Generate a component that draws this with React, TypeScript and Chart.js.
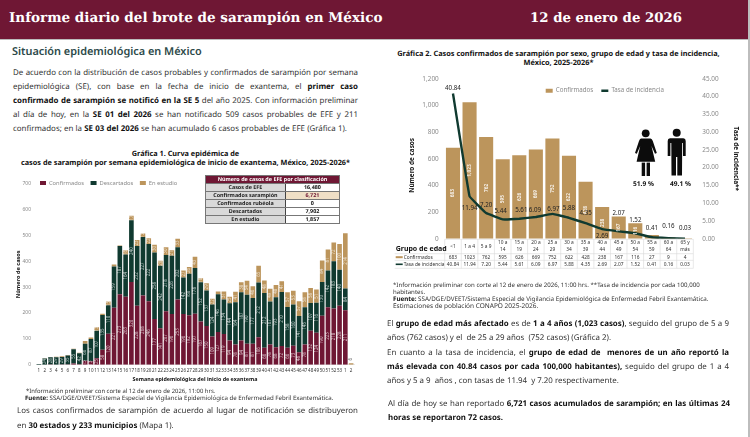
import React, { useEffect, useRef } from "react";
import { Chart, registerables } from "chart.js";

Chart.register(...registerables);
Chart.defaults.font.family = "'Noto Sans'";

const weeks = ["1","2","3","4","5","6","7","8","9","10","11","12","13","14","15","16","17","18","19","20","21","22","23","24","25","26","27","28","29","30","31","32","33","34","35","36","37","38","39","40","41","42","43","44","45","46","47","48","49","50","51","52","53","1","2"];
const confirmados = [0,0,1,0,1,1,5,2,15,13,25,58,120,221,273,263,320,228,268,246,177,141,207,196,253,196,192,197,167,150,109,127,119,94,78,94,81,81,106,66,78,68,72,66,73,48,78,132,124,190,223,218,228,211,0];
const descartados = [3,24,28,29,29,35,55,42,66,87,107,135,110,159,187,164,240,232,227,222,258,242,218,226,202,142,160,178,152,137,124,146,134,144,164,187,190,177,212,212,167,193,210,158,160,141,145,107,116,130,142,183,140,84,0];
const enEstudio = [0,1,1,2,3,2,2,2,11,5,13,4,15,8,2,16,17,23,13,22,30,20,30,21,33,27,26,43,16,29,22,11,31,25,41,38,54,46,65,48,49,48,41,57,53,57,58,58,51,84,81,72,100,214,6];

const ageGroups = [["<1"],["1 a 4"],["5 a 9"],["10 a","14"],["15 a","19"],["20 a","24"],["25 a","29"],["30 a","34"],["35 a","39"],["40 a","44"],["45 a","49"],["50 a","54"],["55 a","59"],["60 a","64"],["65 y","más"]];
const casosEdad = [683,1023,762,595,626,669,752,622,428,238,167,116,27,9,4];
const tasaEdad = [40.84,11.94,7.2,5.44,5.61,6.09,6.97,5.88,4.35,2.69,2.07,1.52,0.41,0.16,0.03];

const resumen = [["Casos de EFE","16,480"],["Confirmados sarampión","6,721"],["Confirmados rubéola","0"],["Descartados","7,902"],["En estudio","1,857"]];

const MAROON = "#6f1734";
const GREEN = "#103a30";
const TAN = "#bc955c";
const TICK = "#8a8a8a";

const pinLegend = (x: number, y: number) => ({
  id: "pinLegend",
  beforeDraw(chart: any) {
    const l = chart.legend;
    const w = l.right - l.left;
    const h = l.bottom - l.top;
    l.left = x; l.right = x + w; l.top = y; l.bottom = y + h;
  },
});

const segmentLabels = {
  id: "segmentLabels",
  afterDatasetsDraw(chart: any) {
    const { ctx } = chart;
    ctx.save();
    ctx.font = "4.4px 'Noto Sans'";
    ctx.fillStyle = "rgba(255,255,255,0.72)";
    ctx.textAlign = "center";
    ctx.textBaseline = "middle";
    chart.data.datasets.forEach((d: any, i: number) => {
      chart.getDatasetMeta(i).data.forEach((bar: any, j: number) => {
        const v = d.data[j];
        if (v < 12) return;
        ctx.save();
        ctx.translate(bar.x, (bar.y + bar.base) / 2);
        ctx.rotate(-Math.PI / 2);
        ctx.fillText(String(v), 0, 0);
        ctx.restore();
      });
    });
    const last = chart.getDatasetMeta(2).data[weeks.length - 1];
    ctx.fillStyle = "#555";
    ctx.translate(last.x, last.y - 4);
    ctx.rotate(-Math.PI / 2);
    ctx.fillText(String(enEstudio[weeks.length - 1]), 0, 0);
    ctx.restore();
  },
};

const rateLabelDy = [-5,12,-7.5,-8,-8.5,-7,-5,-10,-10,7,-18,-13.5,-9,-11.5,-10.6];
const rateLabelDx = [0,0,0,-2,2,-1,1,0,0,0,0,0,0,0,0];

const ageLabels = {
  id: "ageLabels",
  afterDatasetsDraw(chart: any) {
    const { ctx } = chart;
    ctx.save();
    ctx.textAlign = "center";
    ctx.textBaseline = "middle";
    const bars = chart.getDatasetMeta(0).data;
    ctx.font = "bold 4.8px 'Noto Sans'";
    ctx.fillStyle = "rgba(255,255,255,0.85)";
    bars.forEach((bar: any, i: number) => {
      if (casosEdad[i] < 100) return;
      ctx.save();
      ctx.translate(bar.x, (bar.y + bar.base) / 2);
      ctx.rotate(-Math.PI / 2);
      ctx.fillText(casosEdad[i].toLocaleString("en-US"), 0, 0);
      ctx.restore();
    });
    ctx.font = "6.2px 'Noto Sans'";
    ctx.fillStyle = "#222";
    chart.getDatasetMeta(1).data.forEach((p: any, i: number) => {
      ctx.fillText(tasaEdad[i].toFixed(2), p.x + rateLabelDx[i], p.y + rateLabelDy[i]);
    });
    ctx.restore();
  },
};

const ageTable = {
  id: "ageTable",
  afterDraw(chart: any) {
    const { ctx, scales } = chart;
    const x = scales.x;
    const step = x.getPixelForTick(1) - x.getPixelForTick(0);
    const left = x.getPixelForTick(0) - step / 2;
    const right = x.getPixelForTick(ageGroups.length - 1) + step / 2;
    const top = x.top + 0.6;
    const rowY = [top, top + 14.4, top + 21, top + 29];
    ctx.save();
    ctx.strokeStyle = "#d8d8d8";
    ctx.lineWidth = 0.6;
    ctx.beginPath();
    rowY.forEach((y) => { ctx.moveTo(left - (y === top ? 0 : 50), y); ctx.lineTo(right, y); });
    for (let i = 0; i <= ageGroups.length; i++) {
      ctx.moveTo(left + i * step, top); ctx.lineTo(left + i * step, rowY[3]);
    }
    ctx.stroke();
    ctx.textBaseline = "middle";
    ctx.textAlign = "center";
    ctx.fillStyle = "#333";
    ctx.font = "4.8px 'Noto Sans'";
    casosEdad.forEach((v, i) => ctx.fillText(String(v), x.getPixelForTick(i), top + 17.9));
    tasaEdad.forEach((v, i) => ctx.fillText(v.toFixed(2), x.getPixelForTick(i), top + 25));
    ctx.textAlign = "left";
    ctx.fillText("Confirmados", left - 41, top + 17.9);
    ctx.fillText("Tasa de incidencia", left - 41, top + 25);
    ctx.fillStyle = TAN;
    ctx.fillRect(left - 49, top + 16.9, 7, 2);
    ctx.fillStyle = GREEN;
    ctx.fillRect(left - 49, top + 24.2, 7, 1.6);
    ctx.fillStyle = "#111";
    ctx.font = "bold 7px 'Noto Sans'";
    ctx.fillText("Grupo de edad", left - 49, top + 9.5);
    ctx.restore();
  },
};

function useChart(make: (c: HTMLCanvasElement) => Chart) {
  const ref = useRef<HTMLCanvasElement>(null);
  useEffect(() => {
    const chart = make(ref.current!);
    return () => chart.destroy();
  }, []);
  return ref;
}

const legendLabels = (size: number, extra: any = {}) => ({
  font: { size },
  color: "#8a8a8a",
  usePointStyle: true,
  boxHeight: 4,
  pointStyleWidth: 6,
  padding: 6,
  sort: (a: any, b: any) => a.datasetIndex - b.datasetIndex,
  ...extra,
});

function EpiChart() {
  const ref = useChart((c) => new Chart(c, {
    type: "bar",
    data: {
      labels: weeks,
      datasets: [
        { label: "Confirmados", data: confirmados, backgroundColor: MAROON, pointStyle: "rect" },
        { label: "Descartados", data: descartados, backgroundColor: GREEN, pointStyle: "rect" },
        { label: "En estudio", data: enEstudio, backgroundColor: TAN, pointStyle: "rect" },
      ],
    } as any,
    options: {
      animation: false,
      responsive: false,
      devicePixelRatio: 1,
      layout: { padding: { left: 15, right: 21, top: 11.7, bottom: 0.3 } },
      datasets: { bar: { categoryPercentage: 0.8, barPercentage: 1 } },
      plugins: {
        legend: { position: "top", align: "start", labels: legendLabels(5.8, { padding: 6.5 }) },
        tooltip: { enabled: false },
      },
      scales: {
        x: {
          stacked: true,
          grid: { display: false, drawTicks: false },
          border: { color: "#d0d0d0", width: 0.5 },
          ticks: { autoSkip: false, maxRotation: 0, font: { size: 4.5 }, color: "#333", padding: 3 },
          title: { display: true, text: "Semana epidemiológica del inicio de exantema", font: { size: 5.35, weight: "bold" }, color: "#111", padding: { top: 1, bottom: 2 } },
          afterFit: (s: any) => { s.height = 20; },
        },
        y: {
          stacked: true,
          min: 0,
          max: 700,
          grid: { display: false, drawTicks: false },
          border: { display: false },
          ticks: { stepSize: 100, font: { size: 5 }, color: TICK, padding: 5 },
          title: { display: true, text: "Número de casos", font: { size: 5.6, weight: "bold" }, color: "#111", padding: 0 },
          afterFit: (s: any) => { s.width = 21; },
        },
      },
    } as any,
    plugins: [segmentLabels, pinLegend(33.5, 23.5)],
  }));
  return <canvas ref={ref} width={375} height={235} style={{ position: "absolute", left: 0, top: 150, width: 375, height: 235 }} />;
}

function AgeChart() {
  const ref = useChart((c) => new Chart(c, {
    type: "bar",
    data: {
      labels: ageGroups,
      datasets: [
        { type: "bar", label: "Confirmados", data: casosEdad, backgroundColor: TAN, yAxisID: "y", order: 2, pointStyle: "rect", categoryPercentage: 0.85, barPercentage: 1 },
        { type: "line", label: "Tasa de incidencia", data: tasaEdad, borderColor: GREEN, backgroundColor: GREEN, borderWidth: 2.4, pointRadius: 0, tension: 0.05, yAxisID: "y1", order: 1, pointStyle: "line" },
      ],
    } as any,
    options: {
      animation: false,
      responsive: false,
      devicePixelRatio: 1,
      layout: { padding: { left: 23, right: 10, top: 4.5, bottom: 10.3 } },
      plugins: {
        legend: { position: "top", align: "start", labels: legendLabels(6.2, { pointStyleWidth: 7, padding: 8 }) },
        tooltip: { enabled: false },
      },
      scales: {
        x: {
          grid: { display: false, drawTicks: false },
          border: { display: false },
          ticks: {
            autoSkip: false,
            maxRotation: 0,
            padding: 1,
            color: "#333",
            font: (ctx: any) => ({ size: 4.8, lineHeight: ageGroups[ctx.index]?.length === 1 ? 2.7 : 1.35 }),
          },
          afterFit: (s: any) => { s.height = 31; },
        },
        y: {
          min: 0,
          max: 1200,
          grid: { display: false, drawTicks: false },
          border: { display: false },
          ticks: { stepSize: 200, font: { size: 6.4 }, color: TICK, padding: 6, callback: (v: any) => Number(v).toLocaleString("en-US") },
          title: { display: true, text: "Número de casos        ", font: { size: 6.4, weight: "bold" }, color: "#111", padding: 0 },
          afterFit: (s: any) => { s.width = 36.7; },
        },
        y1: {
          position: "right",
          min: 0,
          max: 45,
          grid: { display: false, drawTicks: false },
          border: { display: false },
          ticks: { stepSize: 5, font: { size: 6.4 }, color: TICK, padding: 9, callback: (v: any) => Number(v).toFixed(2) },
          title: { display: true, text: "Tasa de incidencia**", font: { size: 6.4, weight: "bold" }, color: "#111", padding: 0 },
          afterFit: (s: any) => { s.width = 46.7; },
        },
      },
    } as any,
    plugins: [ageLabels, ageTable, pinLegend(152.7, 29.6)],
  }));
  return <canvas ref={ref} width={365} height={230} style={{ position: "absolute", left: 385, top: 50, width: 365, height: 230 }} />;
}

const T = ({ x, y, w, size = 7.9, justify, center, children, color = "#333", weight, family }: any) => (
  <div
    style={{
      position: "absolute",
      left: x,
      top: y - 10,
      width: w,
      height: 20,
      lineHeight: "20px",
      fontSize: size,
      color,
      fontWeight: weight,
      fontFamily: family || "'Noto Sans'",
      textAlign: center ? "center" : "left",
      textAlignLast: justify ? "justify" : center ? "center" : "left",
      whiteSpace: "nowrap",
    }}
  >
    {children}
  </div>
);
const B = ({ children }: any) => <b style={{ color: "#111" }}>{children}</b>;

function ResumenTable() {
  const cell: React.CSSProperties = { height: 7, lineHeight: "6.4px", fontSize: 5.4, fontWeight: 700, textAlign: "center", boxSizing: "border-box", color: "#222" };
  return (
    <div style={{ position: "absolute", left: 205, top: 175, width: 135, fontFamily: "'Noto Sans'", border: "0.5px solid #777", boxSizing: "border-box" }}>
      <div style={{ ...cell, background: MAROON, color: "#fff" }}>Número de casos de EFE por clasificación</div>
      {resumen.map(([k, v], i) => (
        <div key={k} style={{ display: "flex", borderTop: "0.5px solid #777" }}>
          <div style={{ ...cell, width: 81, background: "#d9d9d9", borderRight: "0.5px solid #444" }}>{k}</div>
          <div style={{ ...cell, width: 54, background: i === 1 ? "#efdfc6" : "#fff", color: i === 1 ? MAROON : "#111" }}>{v}</div>
        </div>
      ))}
    </div>
  );
}

export default function App() {
  return (
    <div style={{ position: "absolute", left: 0, top: 0, width: 750, height: 437, overflow: "hidden", background: "#fff", textRendering: "geometricPrecision" }}>
      <div style={{ position: "absolute", left: 0, top: 0, width: 748, height: 39, background: MAROON, borderBottom: "1px solid #bbb" }} />
      <div style={{ position: "absolute", left: 748, top: 0, width: 2, height: 437, background: "#bdbdbd" }} />
      <T x={9} y={18} size={13.55} weight={700} color="#fff" family="'DejaVu Serif'">Informe diario del brote de sarampión en México</T>
      <T x={530} y={19} size={13.3} weight={700} color="#fff" family="'DejaVu Serif'">12 de enero de 2026</T>

      <T x={12} y={52} size={10.9} weight={600} color="#2d4a4a">Situación epidemiológica en México</T>
      <T x={13} y={73} w={345} justify>De acuerdo con la distribución de casos probables y confirmados de sarampión por semana</T>
      <T x={13} y={87} w={345} justify>epidemiológica (SE), con base en la fecha de inicio de exantema, el <B>primer caso</B></T>
      <T x={13} y={101} w={345} justify><B>confirmado de sarampión se notificó en la SE 5</B> del año 2025. Con información preliminar</T>
      <T x={13} y={115} w={345} justify>al día de hoy, en la <B>SE 01 del 2026</B> se han notificado 509 casos probables de EFE y 211</T>
      <T x={13} y={129} w={334} justify>confirmados; en la <B>SE 03 del 2026</B> se han acumulado 6 casos probables de EFE (Gráfica 1).</T>

      <T x={0} y={154} w={371} center size={7.3} weight={700} color="#111">Gráfica 1. Curva epidémica de</T>
      <T x={0} y={163} w={371} center size={7.3} weight={700} color="#111">casos de sarampión por semana epidemiológica de inicio de exantema, México, 2025-2026*</T>

      <EpiChart />
      <ResumenTable />

      <T x={26} y={390.5} size={5.9}>*Información preliminar con corte al 12 de enero de 2026, 11:00 hrs.</T>
      <T x={25} y={398} size={6.12}><B>Fuente:</B> SSA/DGE/DVEET/Sistema Especial de Vigilancia Epidemiológica de Enfermedad Febril Exantemática.</T>
      <T x={17} y={411} w={341} justify>Los casos confirmados de sarampión de acuerdo al lugar de notificación se distribuyeron</T>
      <T x={17} y={426}>en <B>30 estados y 233 municipios</B> (Mapa 1).</T>

      <T x={380} y={54} w={357} center size={7.35} weight={700} color="#111">Gráfica 2. Casos confirmados de sarampión por sexo, grupo de edad y tasa de incidencia,</T>
      <T x={380} y={62.5} w={357} center size={7.35} weight={700} color="#111">México, 2025-2026*</T>

      <AgeChart />

      <svg style={{ position: "absolute", left: 0, top: 0 }} width={750} height={437} fill="#0c0c0c">
        <circle cx={645.7} cy={133.3} r={3.9} />
        <path d="M641 138.6 L650.5 138.6 Q652 139 652.8 141 L656.8 153 L655 153.8 L651.5 146 L655.2 161.7 L636.6 161.7 L640.2 146 L636.8 153.8 L635 153 L639 141 Q639.8 139 641 138.6 Z" />
        <rect x={641.7} y={162.6} width={3.4} height={13.4} />
        <rect x={646.6} y={162.6} width={3.4} height={13.4} />
        <circle cx={676.7} cy={132.7} r={4} />
        <path d="M670 138.3 L683.4 138.3 Q685.7 138.6 685.7 141 L685.7 156 L683 156 L683 143 L682.2 143 L682 175.5 L677.3 175.5 L677.3 157 L676 157 L676 175.5 L671.5 175.5 L671.3 143 L670.4 143 L670.4 156 L667.7 156 L667.7 141 Q667.7 138.6 670 138.3 Z" />
      </svg>
      <T x={633} y={183.5} size={6.6} weight={700} color="#111">51.9 %</T>
      <T x={670} y={183.5} size={6.6} weight={700} color="#111">49.1 %</T>

      <T x={393} y={285} w={302} size={6.1} justify>*Información preliminar con corte al 12 de enero de 2026, 11:00 hrs. **Tasa de incidencia por cada 100,000</T>
      <T x={393} y={292} size={6.1}>habitantes.</T>
      <T x={393} y={299} size={6.25}><B>Fuente:</B> SSA/DGE/DVEET/Sistema Especial de Vigilancia Epidemiológica de Enfermedad Febril Exantemática.</T>
      <T x={393} y={306} size={6.5}>Estimaciones de población CONAPO 2025-2026.</T>

      <T x={387} y={324} w={342} justify>El <B>grupo de edad más afectado</B> es de <B>1 a 4 años (1,023 casos)</B>, seguido del grupo de 5 a 9</T>
      <T x={387} y={338}>años (762 casos) y el&nbsp; de 25 a 29 años&nbsp; (752 casos) (Gráfica 2).</T>
      <T x={387} y={353} w={342} justify>En cuanto a la tasa de incidencia, el <B>grupo de edad de&nbsp; menores de un año reportó la</B></T>
      <T x={387} y={367} w={342} justify><B>más elevada con 40.84 casos por cada 100,000 habitantes),</B> seguido del grupo de 1 a 4</T>
      <T x={387} y={381}>años y 5 a 9&nbsp; años , con tasas de 11.94&nbsp; y 7.20 respectivamente.</T>
      <T x={388} y={404} w={342} justify>Al día de hoy se han reportado <B>6,721 casos acumulados de sarampión; en las últimas 24</B></T>
      <T x={388} y={418}><B>horas se reportaron 72 casos.</B></T>
    </div>
  );
}
